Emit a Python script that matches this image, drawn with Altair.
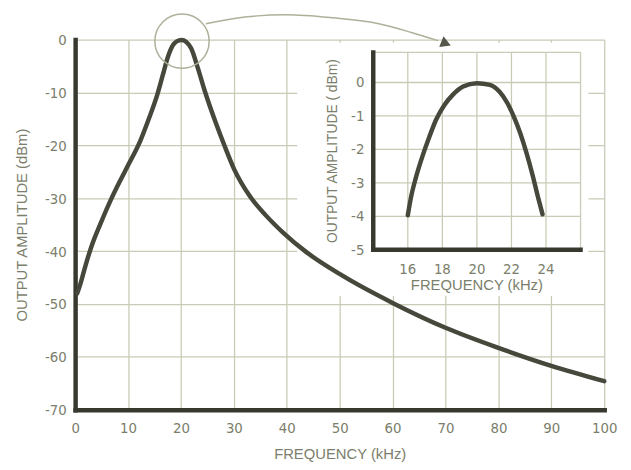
import altair as alt
import pandas as pd

# ---------------- data ----------------
MAIN_F = [0.4, 1.0, 2.0, 3.2, 4.8, 6.7, 8.4, 10.1, 12.3, 14.0, 15.5, 16.6, 17.5, 18.4, 19.2,
          20.1, 21.0, 21.9, 23.2, 24.4, 26.6, 28.2, 30.0, 33.0, 36.0, 39.4, 43.7,
          50.6, 60.0, 70.0, 80.0, 90.0, 100.0]
MAIN_DB = [-48.0, -46.2, -42.6, -38.8, -34.8, -30.4, -26.9, -23.6, -19.2, -14.8, -10.5,
           -6.6, -3.4, -1.2, -0.35, -0.1, -0.45, -1.6, -5.4, -9.4, -15.8, -20.0, -24.4,
           -29.6, -33.2, -36.6, -40.2, -44.7, -49.8, -54.5, -58.3, -61.7, -64.6]

INSET_F = [16.0, 16.19, 16.48, 16.87, 17.25, 17.63, 18.12, 18.6, 19.2, 20.0, 20.75,
           21.3, 21.77, 22.13, 22.5, 22.87, 23.24, 23.52, 23.8]
INSET_DB = [-3.97, -3.42, -2.82, -2.17, -1.62, -1.12, -0.67, -0.37, -0.12, -0.02, -0.07,
            -0.27, -0.62, -1.01, -1.5, -2.1, -2.8, -3.39, -3.94]

MAIN_X_TICKS = [0, 10, 20, 30, 40, 50, 60, 70, 80, 90, 100]
MAIN_Y_TICKS = [0, -10, -20, -30, -40, -50, -60, -70]
MAIN_X_DOMAIN = [0, 100]
MAIN_Y_DOMAIN = [-70, 0]

INSET_X_TICKS = [16, 18, 20, 22, 24]
INSET_Y_TICKS = [0, -1, -2, -3, -4, -5]
INSET_X_GRID = [16, 18, 20, 22, 24, 26]
INSET_Y_GRID = [-4, -3, -2, -1, 0, 0.9]
INSET_X_DOMAIN = [14, 26]
INSET_Y_DOMAIN = [-5, 0.9]

MAIN_X_TITLE = "FREQUENCY (kHz)"
MAIN_Y_TITLE = "OUTPUT AMPLITUDE (dBm)"
INSET_X_TITLE = "FREQUENCY (kHz)"
INSET_Y_TITLE = "OUTPUT AMPLITUDE ( dBm)"

# white panel behind the inset (main data units)
MASK_X = [42.0, 97.0]
MASK_Y = [-48.5, -0.6]
# magnifier circle and arrow (main data units)
CIRCLE_F = [20.2]
CIRCLE_DB = [-0.3]
ARROW_F = [24.7, 32.5, 40.0, 48.8, 57.4, 63.7, 68.6]
ARROW_DB = [3.0, 4.3, 4.7, 4.1, 3.0, 1.3, -0.2]
ARROW_HEAD_F = [70.1]
ARROW_HEAD_DB = [-0.75]

# ---------------- layout / style ----------------
W, H = 536, 375
INSET_RANGE_X = [302, 512]
INSET_RANGE_Y = [213, 13]

CURVE = "#45483b"
AXIS = "#37392f"
GRID = "#c9cbb6"
TEXT = "#7b7e6b"
ANNOT = "#aeb099"
FONT = "Liberation Sans, Arial, sans-serif"
NARROW = "Liberation Sans Narrow, DejaVu Sans Condensed, sans-serif"


def xs():
    return alt.Scale(domain=MAIN_X_DOMAIN, nice=False, zero=False)


def ys():
    return alt.Scale(domain=MAIN_Y_DOMAIN, nice=False, zero=False)


def ixs():
    return alt.Scale(domain=INSET_X_DOMAIN, range=INSET_RANGE_X, nice=False, zero=False)


def iys():
    return alt.Scale(domain=INSET_Y_DOMAIN, range=INSET_RANGE_Y, nice=False, zero=False)


x_axis = alt.Axis(values=MAIN_X_TICKS, grid=True, gridColor=GRID, gridWidth=1.3,
                  domainColor=AXIS, domainWidth=4.5, domainCap="square", ticks=False,
                  labelPadding=11, labelFont=NARROW, labelFontSize=15, labelColor=TEXT,
                  labelFlush=False, labelExpr="'' + datum.value",
                  title=MAIN_X_TITLE, titleFont=FONT, titleFontSize=15,
                  titleFontWeight="normal", titleColor=TEXT, titleY=44,
                  titleBaseline="middle")
y_axis = alt.Axis(values=MAIN_Y_TICKS, grid=True, gridColor=GRID, gridWidth=1.3,
                  domainColor=AXIS, domainWidth=4.5, domainCap="square", ticks=False,
                  labelPadding=9, labelFont=NARROW, labelFontSize=15, labelColor=TEXT,
                  labelExpr="'' + datum.value",
                  title=MAIN_Y_TITLE, titleFont=FONT, titleFontSize=15,
                  titleFontWeight="normal", titleColor=TEXT, titleX=-54,
                  titleBaseline="middle")

main_df = pd.DataFrame({"f": MAIN_F, "db": MAIN_DB})
mask_df = pd.DataFrame({"x1": [MASK_X[0]], "x2": [MASK_X[1]], "y1": [MASK_Y[0]], "y2": [MASK_Y[1]]})
circle_df = pd.DataFrame({"f": CIRCLE_F, "db": CIRCLE_DB})
arrow_df = pd.DataFrame({"f": ARROW_F, "db": ARROW_DB})
head_df = pd.DataFrame({"f": ARROW_HEAD_F, "db": ARROW_HEAD_DB})

axes_layer = alt.Chart(main_df).mark_line(opacity=0).encode(
    x=alt.X("f:Q", scale=xs(), axis=x_axis),
    y=alt.Y("db:Q", scale=ys(), axis=y_axis),
)
mask = alt.Chart(mask_df).mark_rect(color="white").encode(
    x=alt.X("x1:Q", scale=xs(), axis=None), x2="x2:Q",
    y=alt.Y("y1:Q", scale=ys(), axis=None), y2="y2:Q",
)
curve = alt.Chart(main_df).mark_line(color=CURVE, strokeWidth=4.5, interpolate="monotone",
                                     strokeCap="round").encode(
    x=alt.X("f:Q", scale=xs(), axis=None),
    y=alt.Y("db:Q", scale=ys(), axis=None),
)
circle = alt.Chart(circle_df).mark_point(shape="circle", size=3025, filled=False,
                                         color=ANNOT, strokeWidth=1.5, opacity=1).encode(
    x=alt.X("f:Q", scale=xs(), axis=None),
    y=alt.Y("db:Q", scale=ys(), axis=None),
)
arrow = alt.Chart(arrow_df).mark_line(color=ANNOT, strokeWidth=1.5, interpolate="monotone").encode(
    x=alt.X("f:Q", scale=xs(), axis=None),
    y=alt.Y("db:Q", scale=ys(), axis=None),
)
head = alt.Chart(head_df).mark_point(shape="triangle-right", filled=True, size=140, angle=22,
                                     color="#55584a", opacity=1).encode(
    x=alt.X("f:Q", scale=xs(), axis=None),
    y=alt.Y("db:Q", scale=ys(), axis=None),
)

# ---------------- inset ----------------
inset_df = pd.DataFrame({"f": INSET_F, "db": INSET_DB})
vgrid_df = pd.DataFrame({"f": INSET_X_GRID, "lo": INSET_Y_DOMAIN[0], "hi": INSET_Y_DOMAIN[1]})
hgrid_df = pd.DataFrame({"db": INSET_Y_GRID, "lo": INSET_X_DOMAIN[0], "hi": INSET_X_DOMAIN[1]})
xlab_df = pd.DataFrame({"f": INSET_X_TICKS, "db": INSET_Y_DOMAIN[0], "t": [str(v) for v in INSET_X_TICKS]})
ylab_df = pd.DataFrame({"f": INSET_X_DOMAIN[0], "db": INSET_Y_TICKS, "t": [str(v) for v in INSET_Y_TICKS]})
xt_df = pd.DataFrame({"f": [sum(INSET_X_DOMAIN) / 2], "db": [INSET_Y_DOMAIN[0]], "t": [INSET_X_TITLE]})
yt_df = pd.DataFrame({"f": [INSET_X_DOMAIN[0]], "db": [sum(INSET_Y_DOMAIN) / 2], "t": [INSET_Y_TITLE]})
left_df = pd.DataFrame({"f": [INSET_X_DOMAIN[0]], "lo": [INSET_Y_DOMAIN[0]], "hi": [INSET_Y_DOMAIN[1]]})
bottom_df = pd.DataFrame({"db": [INSET_Y_DOMAIN[0]], "lo": [INSET_X_DOMAIN[0]], "hi": [INSET_X_DOMAIN[1]]})

ivgrid = alt.Chart(vgrid_df).mark_rule(color=GRID, strokeWidth=1.3).encode(
    x=alt.X("f:Q", scale=ixs(), axis=None),
    y=alt.Y("lo:Q", scale=iys(), axis=None), y2="hi:Q",
)
ihgrid = alt.Chart(hgrid_df).mark_rule(color=GRID, strokeWidth=1.3).encode(
    y=alt.Y("db:Q", scale=iys(), axis=None),
    x=alt.X("lo:Q", scale=ixs(), axis=None), x2="hi:Q",
)
ileft = alt.Chart(left_df).mark_rule(color=AXIS, strokeWidth=4.5, strokeCap="square").encode(
    x=alt.X("f:Q", scale=ixs(), axis=None),
    y=alt.Y("lo:Q", scale=iys(), axis=None), y2="hi:Q",
)
ibottom = alt.Chart(bottom_df).mark_rule(color=AXIS, strokeWidth=4.5, strokeCap="square").encode(
    y=alt.Y("db:Q", scale=iys(), axis=None),
    x=alt.X("lo:Q", scale=ixs(), axis=None), x2="hi:Q",
)
icurve = alt.Chart(inset_df).mark_line(color=CURVE, strokeWidth=4.5, interpolate="monotone",
                                       strokeCap="round").encode(
    x=alt.X("f:Q", scale=ixs(), axis=None),
    y=alt.Y("db:Q", scale=iys(), axis=None),
)
ixlab = alt.Chart(xlab_df).mark_text(font=NARROW, fontSize=15, color=TEXT, dy=20,
                                     baseline="middle", align="center").encode(
    x=alt.X("f:Q", scale=ixs(), axis=None),
    y=alt.Y("db:Q", scale=iys(), axis=None), text="t:N",
)
iylab = alt.Chart(ylab_df).mark_text(font=NARROW, fontSize=15, color=TEXT, dx=-9,
                                     baseline="middle", align="right").encode(
    x=alt.X("f:Q", scale=ixs(), axis=None),
    y=alt.Y("db:Q", scale=iys(), axis=None), text="t:N",
)
ixt = alt.Chart(xt_df).mark_text(font=FONT, fontSize=15, color=TEXT, dy=36,
                                 baseline="middle", align="center").encode(
    x=alt.X("f:Q", scale=ixs(), axis=None),
    y=alt.Y("db:Q", scale=iys(), axis=None), text="t:N",
)
iyt = alt.Chart(yt_df).mark_text(font=FONT, fontSize=14, color=TEXT, angle=270, dy=-41,
                                 baseline="middle", align="center").encode(
    x=alt.X("f:Q", scale=ixs(), axis=None),
    y=alt.Y("db:Q", scale=iys(), axis=None), text="t:N",
)

chart = alt.layer(
    axes_layer, mask, curve, circle, arrow, head,
    ivgrid, ihgrid, ileft, ibottom, icurve, ixlab, iylab, ixt, iyt,
).resolve_scale(
    x="independent", y="independent"
).properties(
    width=W, height=H,
    padding={"left": 68, "top": 29, "right": 19, "bottom": 50},
    autosize=alt.AutoSizeParams(type="none"),
    background="white",
).configure_view(stroke=None)

chart.save("out.html", embed_options={"renderer": "svg", "actions": False})
